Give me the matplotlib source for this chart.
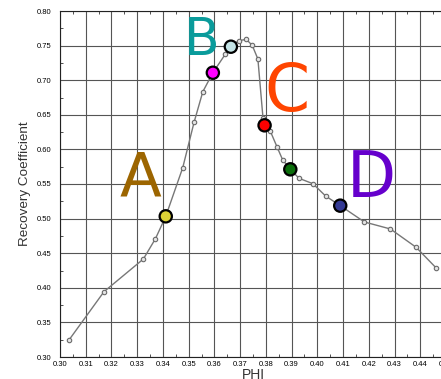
import matplotlib
matplotlib.use("Agg")
import matplotlib.pyplot as plt
from matplotlib.ticker import MultipleLocator

# ---- data ----
phi = [0.3035, 0.3171, 0.3324, 0.3371, 0.3411, 0.3477, 0.3521, 0.3555, 0.3594,
       0.3643, 0.3664, 0.3694, 0.3724, 0.3747, 0.3769, 0.3789, 0.3795, 0.3817,
       0.3843, 0.3865, 0.3895, 0.3929, 0.3983, 0.4032, 0.4089, 0.4183, 0.4284,
       0.4384, 0.4463]
rc = [0.3246, 0.3944, 0.4416, 0.4710, 0.5033, 0.5736, 0.6392, 0.6834, 0.7108,
      0.7379, 0.7484, 0.7571, 0.7590, 0.7504, 0.7306, 0.6447, 0.6348, 0.6266,
      0.6039, 0.5851, 0.5712, 0.5582, 0.5504, 0.5327, 0.5187, 0.4951, 0.4850,
      0.4585, 0.4282]

hl_phi = [0.3411, 0.3594, 0.3664, 0.3795, 0.3895, 0.4089]
hl_rc = [0.5033, 0.7108, 0.7484, 0.6348, 0.5712, 0.5187]
hl_colors = ["#ddd236", "#ff00ff", "#c4e4e6", "#ff0000", "#0b6e0b", "#343a94"]

labels = ["A", "B", "C", "D"]
label_phi = [0.3313, 0.3551, 0.3883, 0.4208]
label_rc = [0.5331, 0.7364, 0.6555, 0.5312]
label_colors = ["#9c6500", "#0a9b9b", "#ff4500", "#6600cc"]
label_sizes = [44, 37.5, 46.5, 46]

xticks = [0.30, 0.31, 0.32, 0.33, 0.34, 0.35, 0.36, 0.37, 0.38, 0.39, 0.40,
          0.41, 0.42, 0.43, 0.44, 0.45]
yticks = [0.30, 0.35, 0.40, 0.45, 0.50, 0.55, 0.60, 0.65, 0.70, 0.75, 0.80]

# ---- figure ----
fig = plt.figure(figsize=(4.41, 3.79), dpi=100)
ax = fig.add_axes([60/441, 22/379, 386/441, 346/379])
ax.set_xlim(0.30, 0.45)
ax.set_ylim(0.30, 0.80)
ax.set_xticks(xticks)
ax.set_yticks(yticks)
ax.set_xticklabels([f"{v:.2f}" for v in xticks], fontsize=5.5, family="Liberation Sans")
ax.set_yticklabels([f"{v:.2f}" for v in yticks], fontsize=5.5, family="Liberation Sans")
ax.xaxis.set_minor_locator(MultipleLocator(0.005))
ax.yaxis.set_minor_locator(MultipleLocator(0.025))
ax.tick_params(which="major", length=0, pad=3)
ax.tick_params(axis="y", which="major", pad=6)
ax.tick_params(which="minor", direction="in", length=2.2, width=0.6,
               top=True, right=True, color="#333333")
ax.grid(True, which="major", color="#555555", linewidth=0.8)
ax.set_axisbelow(True)
for s in ax.spines.values():
    s.set_linewidth(0.8)
    s.set_color("#222222")

ax.plot(phi, rc, color="#777777", linewidth=1.0, marker="o", markersize=3.2,
        markerfacecolor="#e4e4e4", markeredgecolor="#6a6a6a",
        markeredgewidth=0.8, zorder=3)
ax.scatter(hl_phi, hl_rc, s=78, c=hl_colors, edgecolors="black",
           linewidths=1.6, zorder=4)

for t, x, y, c, fs in zip(labels, label_phi, label_rc, label_colors, label_sizes):
    ax.text(x, y, t, color=c, fontsize=fs, ha="center", va="baseline",
            family="DejaVu Sans", zorder=5)

ax.set_xlabel("PHI", fontsize=10, family="Liberation Sans", color="#333333", labelpad=0)
ax.set_ylabel("Recovery Coefficient", fontsize=9.7, family="Liberation Sans",
              color="#333333", labelpad=4)

fig.savefig("out.png", dpi=100)
